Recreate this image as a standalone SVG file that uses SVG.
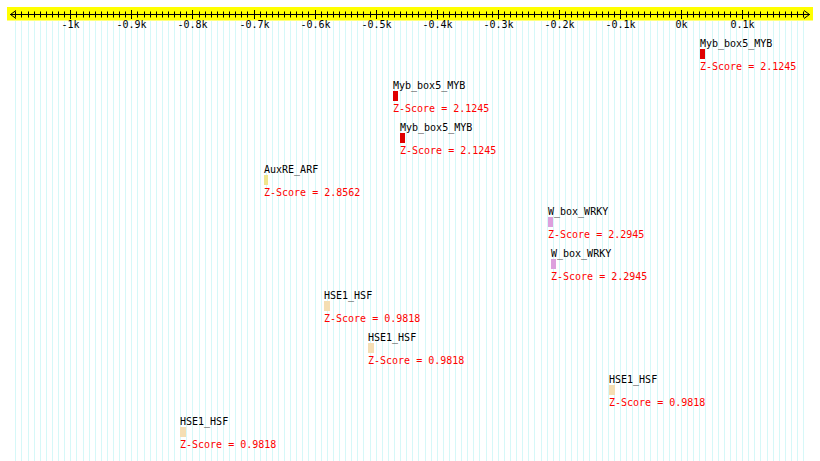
<svg xmlns="http://www.w3.org/2000/svg" width="820" height="461" viewBox="0 0 820 461">
<style>
.grid{stroke:#d6f8f8;stroke-width:1;fill:none}
.tick{stroke:#000;stroke-width:1;fill:none}
.ax{font-family:"DejaVu Sans Mono","Liberation Mono",monospace;font-size:10px;fill:#000}
.lbl{font-family:"DejaVu Sans Mono","Liberation Mono",monospace;font-size:10px;fill:#000}
.z{font-family:"DejaVu Sans Mono","Liberation Mono",monospace;font-size:10px;fill:#ff0000}
.myb{fill:#e00000}
.arf{fill:#f0e68c}
.wrky{fill:#dda0dd}
.hsf{fill:#f5deb3}
</style>
<rect x="0" y="0" width="820" height="461" fill="#ffffff"/>
<g id="grid">
<path class="grid" d="M15.5 21V461M21.5 21V461M28.5 21V461M34.5 21V461M40.5 21V461M46.5 21V461M52.5 21V461M58.5 21V461M64.5 21V461M70.5 21V461M76.5 21V461M83.5 21V461M89.5 21V461M95.5 21V461M101.5 21V461M107.5 21V461M113.5 21V461M119.5 21V461M125.5 21V461M131.5 21V461M137.5 21V461M144.5 21V461M150.5 21V461M156.5 21V461M162.5 21V461M168.5 21V461M174.5 21V461M180.5 21V461M186.5 21V461M192.5 21V461M199.5 21V461M205.5 21V461M211.5 21V461M217.5 21V461M223.5 21V461M229.5 21V461M235.5 21V461M241.5 21V461M247.5 21V461M254.5 21V461M260.5 21V461M266.5 21V461M272.5 21V461M278.5 21V461M284.5 21V461M290.5 21V461M296.5 21V461M302.5 21V461M308.5 21V461M315.5 21V461M321.5 21V461M327.5 21V461M333.5 21V461M339.5 21V461M345.5 21V461M351.5 21V461M357.5 21V461M363.5 21V461M370.5 21V461M376.5 21V461M382.5 21V461M388.5 21V461M394.5 21V461M400.5 21V461M406.5 21V461M412.5 21V461M418.5 21V461M425.5 21V461M431.5 21V461M437.5 21V461M443.5 21V461M449.5 21V461M455.5 21V461M461.5 21V461M467.5 21V461M473.5 21V461M479.5 21V461M486.5 21V461M492.5 21V461M498.5 21V461M504.5 21V461M510.5 21V461M516.5 21V461M522.5 21V461M528.5 21V461M534.5 21V461M541.5 21V461M547.5 21V461M553.5 21V461M559.5 21V461M565.5 21V461M571.5 21V461M577.5 21V461M583.5 21V461M589.5 21V461M596.5 21V461M602.5 21V461M608.5 21V461M614.5 21V461M620.5 21V461M626.5 21V461M632.5 21V461M638.5 21V461M644.5 21V461M650.5 21V461M657.5 21V461M663.5 21V461M669.5 21V461M675.5 21V461M681.5 21V461M687.5 21V461M693.5 21V461M699.5 21V461M705.5 21V461M712.5 21V461M718.5 21V461M724.5 21V461M730.5 21V461M736.5 21V461M742.5 21V461M748.5 21V461M754.5 21V461M760.5 21V461M767.5 21V461M773.5 21V461M779.5 21V461M785.5 21V461M791.5 21V461M797.5 21V461M803.5 21V461"/>
</g>
<g id="axis">
<rect x="7" y="7" width="806" height="13.5" fill="#ffff00"/>
<path class="tick" d="M10 14.5H810M16 10.5L10.5 14.5L16 18.5M804 10.5L809.5 14.5L804 18.5"/>
<path class="tick" d="M15.5 11.5V17.5M21.5 11.5V17.5M28.5 11.5V17.5M34.5 11.5V17.5M40.5 11.5V17.5M46.5 11.5V17.5M52.5 11.5V17.5M58.5 11.5V17.5M64.5 11.5V17.5M76.5 11.5V17.5M83.5 11.5V17.5M89.5 11.5V17.5M95.5 11.5V17.5M101.5 11.5V17.5M107.5 11.5V17.5M113.5 11.5V17.5M119.5 11.5V17.5M125.5 11.5V17.5M137.5 11.5V17.5M144.5 11.5V17.5M150.5 11.5V17.5M156.5 11.5V17.5M162.5 11.5V17.5M168.5 11.5V17.5M174.5 11.5V17.5M180.5 11.5V17.5M186.5 11.5V17.5M199.5 11.5V17.5M205.5 11.5V17.5M211.5 11.5V17.5M217.5 11.5V17.5M223.5 11.5V17.5M229.5 11.5V17.5M235.5 11.5V17.5M241.5 11.5V17.5M247.5 11.5V17.5M260.5 11.5V17.5M266.5 11.5V17.5M272.5 11.5V17.5M278.5 11.5V17.5M284.5 11.5V17.5M290.5 11.5V17.5M296.5 11.5V17.5M302.5 11.5V17.5M308.5 11.5V17.5M321.5 11.5V17.5M327.5 11.5V17.5M333.5 11.5V17.5M339.5 11.5V17.5M345.5 11.5V17.5M351.5 11.5V17.5M357.5 11.5V17.5M363.5 11.5V17.5M370.5 11.5V17.5M382.5 11.5V17.5M388.5 11.5V17.5M394.5 11.5V17.5M400.5 11.5V17.5M406.5 11.5V17.5M412.5 11.5V17.5M418.5 11.5V17.5M425.5 11.5V17.5M431.5 11.5V17.5M443.5 11.5V17.5M449.5 11.5V17.5M455.5 11.5V17.5M461.5 11.5V17.5M467.5 11.5V17.5M473.5 11.5V17.5M479.5 11.5V17.5M486.5 11.5V17.5M492.5 11.5V17.5M504.5 11.5V17.5M510.5 11.5V17.5M516.5 11.5V17.5M522.5 11.5V17.5M528.5 11.5V17.5M534.5 11.5V17.5M541.5 11.5V17.5M547.5 11.5V17.5M553.5 11.5V17.5M565.5 11.5V17.5M571.5 11.5V17.5M577.5 11.5V17.5M583.5 11.5V17.5M589.5 11.5V17.5M596.5 11.5V17.5M602.5 11.5V17.5M608.5 11.5V17.5M614.5 11.5V17.5M626.5 11.5V17.5M632.5 11.5V17.5M638.5 11.5V17.5M644.5 11.5V17.5M650.5 11.5V17.5M657.5 11.5V17.5M663.5 11.5V17.5M669.5 11.5V17.5M675.5 11.5V17.5M687.5 11.5V17.5M693.5 11.5V17.5M699.5 11.5V17.5M705.5 11.5V17.5M712.5 11.5V17.5M718.5 11.5V17.5M724.5 11.5V17.5M730.5 11.5V17.5M736.5 11.5V17.5M748.5 11.5V17.5M754.5 11.5V17.5M760.5 11.5V17.5M767.5 11.5V17.5M773.5 11.5V17.5M779.5 11.5V17.5M785.5 11.5V17.5M791.5 11.5V17.5M797.5 11.5V17.5M803.5 11.5V17.5"/>
<path class="tick" d="M70.5 10V19M131.5 10V19M192.5 10V19M254.5 10V19M315.5 10V19M376.5 10V19M437.5 10V19M498.5 10V19M559.5 10V19M620.5 10V19M681.5 10V19M742.5 10V19"/>
<g class="ax" text-anchor="middle">
<text x="70.5" y="28">-1k</text>
<text x="131.5" y="28">-0.9k</text>
<text x="192.5" y="28">-0.8k</text>
<text x="254.5" y="28">-0.7k</text>
<text x="315.5" y="28">-0.6k</text>
<text x="376.5" y="28">-0.5k</text>
<text x="437.5" y="28">-0.4k</text>
<text x="498.5" y="28">-0.3k</text>
<text x="559.5" y="28">-0.2k</text>
<text x="620.5" y="28">-0.1k</text>
<text x="681.5" y="28">0k</text>
<text x="742.5" y="28">0.1k</text>
</g>
</g>
<g id="myb1"><text class="lbl" x="700" y="47">Myb_box5_MYB</text><rect class="myb" x="700" y="49" width="5" height="10"/><text class="z" x="700" y="70">Z-Score = 2.1245</text></g>
<g id="myb2"><text class="lbl" x="393" y="89">Myb_box5_MYB</text><rect class="myb" x="393" y="91" width="5" height="10"/><text class="z" x="393" y="112">Z-Score = 2.1245</text></g>
<g id="myb3"><text class="lbl" x="400" y="131">Myb_box5_MYB</text><rect class="myb" x="400" y="133" width="5" height="10"/><text class="z" x="400" y="154">Z-Score = 2.1245</text></g>
<g id="arf"><text class="lbl" x="264" y="173">AuxRE_ARF</text><rect class="arf" x="264" y="175" width="4" height="10"/><text class="z" x="264" y="196">Z-Score = 2.8562</text></g>
<g id="wrky1"><text class="lbl" x="548" y="215">W_box_WRKY</text><rect class="wrky" x="548" y="217" width="5" height="10"/><text class="z" x="548" y="238">Z-Score = 2.2945</text></g>
<g id="wrky2"><text class="lbl" x="551" y="257">W_box_WRKY</text><rect class="wrky" x="551" y="259" width="5" height="10"/><text class="z" x="551" y="280">Z-Score = 2.2945</text></g>
<g id="hsf1"><text class="lbl" x="324" y="299">HSE1_HSF</text><rect class="hsf" x="324" y="301" width="6" height="10"/><text class="z" x="324" y="322">Z-Score = 0.9818</text></g>
<g id="hsf2"><text class="lbl" x="368" y="341">HSE1_HSF</text><rect class="hsf" x="368" y="343" width="6" height="10"/><text class="z" x="368" y="364">Z-Score = 0.9818</text></g>
<g id="hsf3"><text class="lbl" x="609" y="383">HSE1_HSF</text><rect class="hsf" x="609" y="385" width="6" height="10"/><text class="z" x="609" y="406">Z-Score = 0.9818</text></g>
<g id="hsf4"><text class="lbl" x="180" y="425">HSE1_HSF</text><rect class="hsf" x="180" y="427" width="6" height="10"/><text class="z" x="180" y="448">Z-Score = 0.9818</text></g>
<g id="connectors"></g>
</svg>
